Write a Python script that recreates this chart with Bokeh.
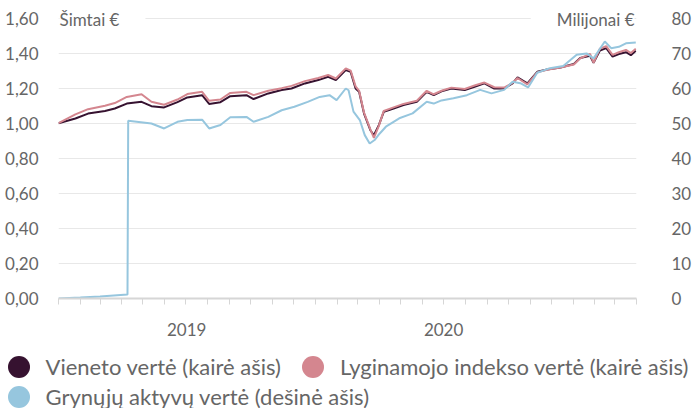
import pandas as pd
from bokeh.plotting import figure
from bokeh.models import (Range1d, LinearAxis, FixedTicker, Label, Legend, LegendItem,
                          ColumnDataSource)
from bokeh.embed import file_html
from bokeh.resources import INLINE

# ---------------- data ----------------
unit_dates = [
    "2019-01-01", "2019-01-25", "2019-02-12", "2019-03-08", "2019-03-22", "2019-04-08",
    "2019-04-29", "2019-05-13", "2019-05-31", "2019-06-19", "2019-07-03", "2019-07-24",
    "2019-08-03", "2019-08-19", "2019-09-02", "2019-09-25", "2019-10-05", "2019-10-26",
    "2019-11-14", "2019-11-28", "2019-12-17", "2020-01-05", "2020-01-19", "2020-01-30",
    "2020-02-13", "2020-02-20", "2020-02-27", "2020-03-03", "2020-03-10", "2020-03-19",
    "2020-03-24", "2020-03-31", "2020-04-07", "2020-04-21", "2020-05-05", "2020-05-24",
    "2020-06-07", "2020-06-17", "2020-06-28", "2020-07-12", "2020-07-31", "2020-08-14",
    "2020-08-28", "2020-09-11", "2020-09-25", "2020-10-07", "2020-10-14", "2020-10-28",
    "2020-11-11", "2020-11-25", "2020-12-14", "2021-01-02", "2021-01-11", "2021-01-25",
    "2021-01-30", "2021-02-08", "2021-02-17", "2021-02-26", "2021-03-07", "2021-03-17",
    "2021-03-24", "2021-03-31",
]
unit_value = [
    1.000, 1.027, 1.055, 1.070, 1.084, 1.112,
    1.122, 1.097, 1.090, 1.120, 1.147, 1.160,
    1.110, 1.120, 1.154, 1.160, 1.138, 1.170,
    1.189, 1.198, 1.227, 1.246, 1.265, 1.246,
    1.303, 1.293, 1.198, 1.179, 1.055, 0.960,
    0.931, 0.989, 1.065, 1.084, 1.103, 1.122,
    1.179, 1.160, 1.182, 1.198, 1.189, 1.208,
    1.227, 1.198, 1.198, 1.227, 1.261, 1.227,
    1.293, 1.306, 1.318, 1.338, 1.372, 1.385,
    1.345, 1.415, 1.428, 1.380, 1.395, 1.405,
    1.388, 1.413,
]
index_value = [
    1.000, 1.050, 1.080, 1.100, 1.115, 1.150,
    1.165, 1.122, 1.105, 1.135, 1.166, 1.179,
    1.128, 1.135, 1.173, 1.179, 1.160, 1.185,
    1.200, 1.213, 1.240, 1.258, 1.275, 1.255,
    1.313, 1.300, 1.210, 1.185, 1.060, 0.965,
    0.916, 0.985, 1.070, 1.090, 1.110, 1.128,
    1.185, 1.165, 1.185, 1.203, 1.195, 1.215,
    1.232, 1.205, 1.203, 1.230, 1.258, 1.222,
    1.290, 1.305, 1.318, 1.335, 1.370, 1.395,
    1.345, 1.425, 1.440, 1.390, 1.405, 1.418,
    1.400, 1.425,
]
asset_dates = [
    "2019-01-01", "2019-02-01", "2019-03-01", "2019-04-09", "2019-04-10", "2019-05-13",
    "2019-05-31", "2019-06-19", "2019-07-03", "2019-07-24", "2019-08-03", "2019-08-19",
    "2019-09-02", "2019-09-25", "2019-10-05", "2019-10-26", "2019-11-14", "2019-12-02",
    "2019-12-21", "2020-01-07", "2020-01-21", "2020-01-31", "2020-02-13", "2020-02-17",
    "2020-02-24", "2020-03-04", "2020-03-11", "2020-03-18", "2020-03-25", "2020-04-01",
    "2020-04-10", "2020-04-29", "2020-05-18", "2020-06-07", "2020-06-17", "2020-06-28",
    "2020-07-15", "2020-08-03", "2020-08-22", "2020-09-07", "2020-09-25", "2020-10-07",
    "2020-10-18", "2020-10-29", "2020-11-11", "2020-11-29", "2020-12-18", "2021-01-06",
    "2021-01-20", "2021-01-30", "2021-02-15", "2021-02-24", "2021-03-07", "2021-03-17",
    "2021-03-31",
]
asset_value = [
    0.0, 0.3, 0.6, 1.15, 50.7, 49.9,
    48.5, 50.4, 50.9, 51.0, 48.5, 49.5,
    51.7, 51.8, 50.4, 51.8, 53.7, 54.7,
    56.1, 57.5, 58.0, 56.6, 59.9, 59.4,
    53.3, 50.9, 46.6, 44.2, 45.2, 47.0,
    49.0, 51.4, 52.8, 56.1, 55.6, 56.5,
    57.1, 58.0, 59.5, 58.5, 59.5, 61.8,
    61.4, 60.2, 64.4, 65.7, 66.3, 69.5,
    69.9, 68.5, 73.3, 71.4, 71.8, 72.8,
    73.0,
]

series_names = [
    "Vieneto vertė (kairė ašis)",
    "Lyginamojo indekso vertė (kairė ašis)",
    "Grynųjų aktyvų vertė (dešinė ašis)",
]
left_ticks = [0.0, 0.2, 0.4, 0.6, 0.8, 1.0, 1.2, 1.4, 1.6]
left_labels = ["0,00", "0,20", "0,40", "0,60", "0,80", "1,00", "1,20", "1,40", "1,60"]
right_ticks = [0, 10, 20, 30, 40, 50, 60, 70, 80]
year_starts = ["2019-01-01", "2020-01-01", "2021-01-01"]
year_mids = ["2019-07-02", "2020-07-01"]
year_labels = ["2019", "2020"]
left_title = "Šimtai €"
right_title = "Milijonai €"
x_start, x_end = "2019-01-01", "2021-04-01"

# ---------------- style ----------------
FONT = "Lato"
GRAY = "#666666"
C_UNIT = "#361230"
C_INDEX = "#d4868f"
C_ASSET = "#96c6de"


def ms(d):
    return float(pd.Timestamp(d).value // 10**6)


months = [ms(d) for d in pd.date_range(x_start, x_end, freq="MS")]

MAIN_H = 350
p = figure(width=694, height=MAIN_H, output_backend="svg", toolbar_location=None,
           x_range=Range1d(ms(x_start), ms(x_end)), y_range=Range1d(0, 1.7),
           x_axis_location=None, y_axis_location="left",
           min_border_left=58, min_border_right=52, min_border_top=0,
           min_border_bottom=MAIN_H - 298)
p.outline_line_color = None
p.background_fill_color = "white"
p.extra_y_ranges = {"right": Range1d(0, 85)}

# left axis
ya = p.yaxis[0]
ya.ticker = FixedTicker(ticks=left_ticks)
ya.major_label_overrides = dict(zip(left_ticks, left_labels))
ya.axis_line_color = None
ya.major_tick_line_color = None
ya.minor_tick_line_color = None
ya.major_label_standoff = 14
ya.major_label_text_font = FONT
ya.major_label_text_font_size = "17px"
ya.major_label_text_color = GRAY

p.xgrid.visible = False
p.ygrid.grid_line_color = "#e8e8e8"
p.ygrid.grid_line_width = 1

# right axis
ra = LinearAxis(y_range_name="right", ticker=FixedTicker(ticks=right_ticks),
                axis_line_color=None, major_tick_line_color=None,
                minor_tick_line_color=None, major_label_standoff=29,
                major_label_text_font=FONT, major_label_text_font_size="17px",
                major_label_text_color=GRAY)
p.add_layout(ra, "right")

# x axis: year labels at mid-year, monthly minor ticks
mids = [ms(d) for d in year_mids]
xa = LinearAxis(ticker=FixedTicker(ticks=mids, minor_ticks=months),
                axis_line_color="#d6d6d6", axis_line_width=2,
                major_tick_line_color=None, major_tick_out=0, major_tick_in=0,
                minor_tick_line_color="#d6d6d6", minor_tick_out=6, minor_tick_in=0,
                major_label_standoff=18,
                major_label_overrides=dict(zip(mids, year_labels)),
                major_label_text_font=FONT, major_label_text_font_size="17px",
                major_label_text_color=GRAY)
p.add_layout(xa, "below")

# longer ticks at year boundaries, fixed on the x axis line
xb = LinearAxis(ticker=FixedTicker(ticks=[], minor_ticks=[ms(d) for d in year_starts]),
                fixed_location=0, axis_line_color=None,
                major_tick_line_color=None,
                minor_tick_line_color="#cfcfcf", minor_tick_out=11, minor_tick_in=0)
p.add_layout(xb, "below")

# lines
src_u = ColumnDataSource(dict(x=pd.to_datetime(unit_dates), unit=unit_value, index=index_value))
src_a = ColumnDataSource(dict(x=pd.to_datetime(asset_dates), asset=asset_value))
p.line("x", "unit", source=src_u, color=C_UNIT, line_width=2)
p.line("x", "index", source=src_u, color=C_INDEX, line_width=2)
p.line("x", "asset", source=src_a, color=C_ASSET, line_width=2, y_range_name="right")

# axis titles
p.add_layout(Label(x=ms(x_start), y=1.6, text=left_title, text_align="left",
                   text_baseline="middle", x_offset=1, y_offset=-1, text_font=FONT,
                   text_font_size="17px", text_color=GRAY,
                   background_fill_color="white",
                   padding=dict(left=0, right=26, top=3, bottom=3)))
p.add_layout(Label(x=ms(x_end), y=1.6, text=right_title, text_align="right",
                   text_baseline="middle", x_offset=-2, y_offset=-1, text_font=FONT,
                   text_font_size="17px", text_color=GRAY,
                   background_fill_color="white",
                   padding=dict(left=26, right=0, top=3, bottom=3)))

# legend strip: a separate root below the chart, its frame spans the full width
LEG_H = 408 - MAIN_H
lf = figure(width=694, height=LEG_H, output_backend="svg", toolbar_location=None,
            x_range=Range1d(0, 1), y_range=Range1d(0, 1),
            x_axis_location=None, y_axis_location=None, min_border=0)
lf.outline_line_color = None
lf.grid.visible = False
empty = ColumnDataSource(dict(x=[float("nan")], y=[float("nan")]))
rs = [lf.scatter("x", "y", source=empty, marker="circle", size=22,
                 fill_color=c, line_color=c, line_width=0)
      for c in (C_UNIT, C_INDEX, C_ASSET)]

common = dict(orientation="horizontal", glyph_width=55, glyph_height=55,
              label_standoff=-5, padding=0, margin=0, spacing=0,
              border_line_color=None, background_fill_alpha=0,
              label_text_font=FONT, label_text_font_size="22px",
              label_text_color=GRAY, label_height=22, inactive_fill_alpha=0)
# (x, y) of each legend box, in pixels from the strip's bottom-left corner
leg_loc = [(-9.5, 14.5), (285, 14.5), (-9.5, -15.5)]
for name, r, loc in zip(series_names, rs, leg_loc):
    lf.add_layout(Legend(items=[LegendItem(label=name, renderers=[r])],
                         location=loc, **common))

open("out.html", "w").write(file_html([p, lf], INLINE))
